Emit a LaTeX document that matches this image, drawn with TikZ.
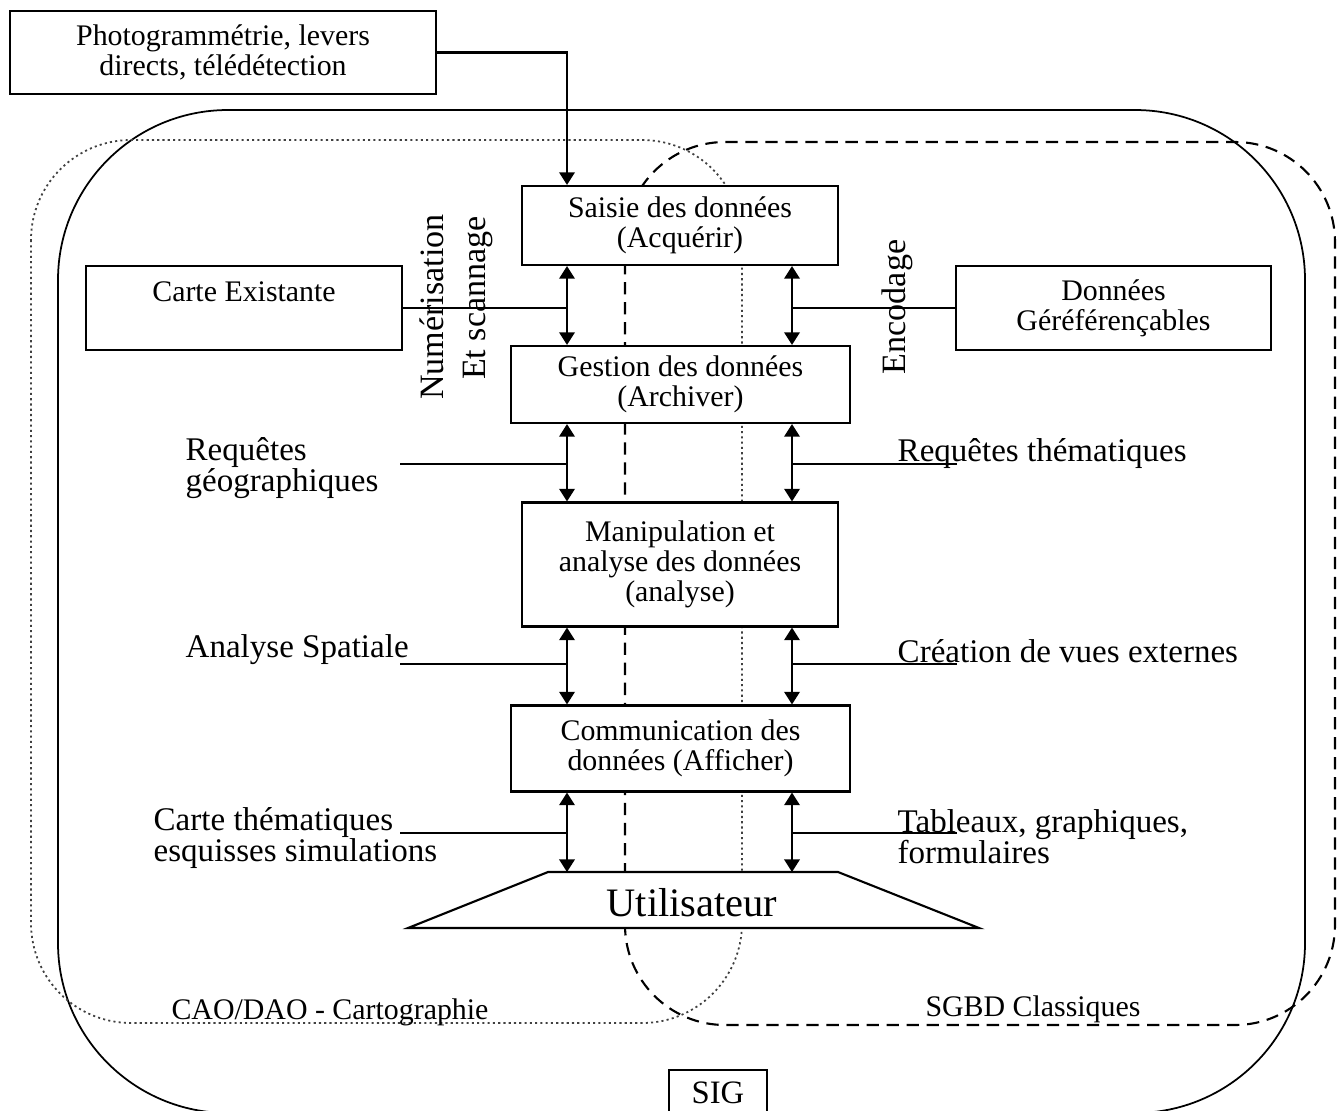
\documentclass[tikz,border=0pt]{standalone}
\usepackage{fontspec}
\setmainfont{Liberation Serif}
\usetikzlibrary{arrows.meta}

\tikzset{
  box/.style={draw, fill=white, line width=0.6pt, align=center, inner sep=0pt,
    font=\fontsize{8.5}{8.6}\selectfont},
  lbl/.style={align=left, anchor=west, inner sep=0pt, font=\fontsize{9.4}{8.8}\selectfont},
  vlbl/.style={rotate=90, inner sep=0pt, font=\fontsize{9.7}{10}\selectfont},
  zone/.style={inner sep=0pt, font=\fontsize{8.5}{9}\selectfont},
  biarrow/.style={{Triangle[length=3.6pt,width=4.4pt]}-{Triangle[length=3.6pt,width=4.4pt]}, line width=0.6pt},
  feed/.style={-{Triangle[length=3.6pt,width=4.4pt]}, line width=0.6pt},
  link/.style={line width=0.6pt},
}

\begin{document}
\begin{tikzpicture}[x=0.1mm, y=-0.1mm]
  \useasboundingbox (0,0) rectangle (1341,1110);

  % les trois domaines
  \draw[line width=0.5pt, rounded corners=17mm] (58,110) rectangle (1305,1113);
  \draw[black!75, line width=0.5pt, dash pattern=on 0.6pt off 0.9pt, rounded corners=10mm] (31,140) rectangle (742,1023);
  \draw[line width=0.6pt, dash pattern=on 3.5pt off 2.2pt, rounded corners=10mm] (625,142) rectangle (1335,1025);

  % boites
  \node[box, minimum width=42.6mm, minimum height=8.3mm] (photo) at (223,52.5) {Photogrammétrie, levers\\directs, télédétection};
  \node[box, minimum width=31.6mm, minimum height=7.9mm] (saisie) at (680,225.5) {Saisie des données\\(Acquérir)};
  \node[box, minimum width=33.9mm, minimum height=7.7mm] (gestion) at (680.5,384.5) {Gestion des données\\(Archiver)};
  \node[box, minimum width=31.6mm, minimum height=12.4mm] (manip) at (680,564.5) {Manipulation et\\analyse des données\\(analyse)};
  \node[box, minimum width=33.9mm, minimum height=8.6mm] (comm) at (680.5,748.5) {Communication des\\données (Afficher)};
  \node[box, minimum width=31.6mm, minimum height=8.4mm] (carte) at (244,308) {Carte Existante\\[-2pt]\strut};
  \node[box, minimum width=31.5mm, minimum height=8.4mm] (donnees) at (1113.5,308) {Données\\Géréférençables};
  \node[box, minimum width=9.8mm, minimum height=4.6mm, text depth=0pt, font=\fontsize{9.3}{10}\selectfont] (sig) at (718,1093) {SIG};

  % utilisateur
  \coordinate (utl) at (548,872);
  \coordinate (utr) at (838,872);
  \draw[fill=white, line width=0.6pt] (utl) -- (utr) -- (979,928) -- (408,928) -- cycle;
  \node[inner sep=0pt, font=\fontsize{11.5}{12}\selectfont] (user) at (692,903) {Utilisateur};

  % fleches
  \coordinate (L) at (567,0);
  \coordinate (R) at (792,0);
  \foreach \a/\b in {saisie/gestion, gestion/manip, manip/comm} {
    \draw[biarrow] (\a.south -| L) -- (\b.north -| L);
    \draw[biarrow] (\a.south -| R) -- (\b.north -| R);
  }
  \draw[biarrow] (comm.south -| L) -- (utl -| L);
  \draw[biarrow] (comm.south -| R) -- (utl -| R);
  \draw[feed] (photo.east) -| (saisie.north -| L);
  \draw[link] (carte.east) -- (carte.east -| L);
  \draw[link] (donnees.west) -- (donnees.west -| R);

  % libelles
  \node[lbl] (reqgeo) at (185,468) {Requêtes\\géographiques};
  \node[lbl] (anaspa) at (185,650) {Analyse Spatiale};
  \node[lbl] (carthem) at (153,838) {Carte thématiques\\esquisses simulations};
  \node[lbl] (reqthem) at (897,454) {Requêtes thématiques};
  \node[lbl] (vues) at (897,651) {Création de vues externes};
  \node[lbl] (tabl) at (897,837) {Tableaux, graphiques,\\formulaires};
  \node[vlbl] (numer) at (432,307) {Numérisation};
  \node[vlbl] (scann) at (478,298) {Et scannage};
  \node[vlbl] (encod) at (897,307) {Encodage};
  \node[zone] (cao) at (330,1012) {CAO/DAO - Cartographie};
  \node[zone] (sgbd) at (1033,1009) {SGBD Classiques};

  \coordinate (rg) at (400,464);
  \coordinate (as) at (400,664);
  \coordinate (ct) at (400,833);
  \coordinate (rt) at (957,464);
  \coordinate (vx) at (957,664);
  \coordinate (tb) at (957,833);
  \foreach \c in {rg, as, ct} \draw[link] (\c) -- (\c -| L);
  \foreach \c in {rt, vx, tb} \draw[link] (\c) -- (\c -| R);
\end{tikzpicture}
\end{document}
